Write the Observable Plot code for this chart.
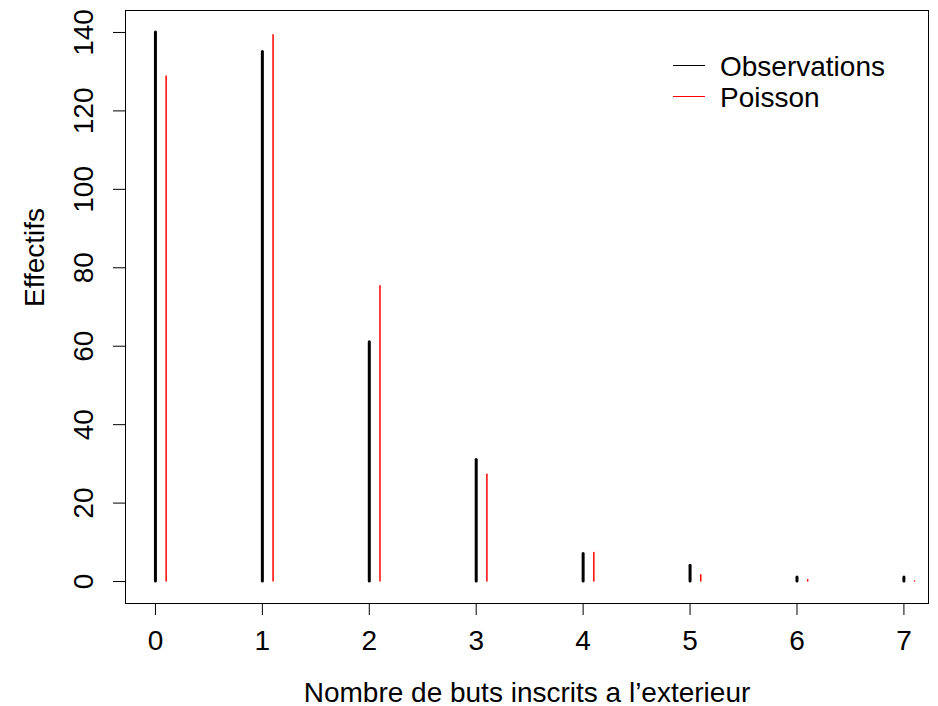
<!DOCTYPE html>
<html>
<head>
<meta charset="utf-8">
<script src="https://cdn.jsdelivr.net/npm/d3@7"></script>
<script src="https://cdn.jsdelivr.net/npm/@observablehq/plot@0.6"></script>
<style>
  html, body { margin: 0; padding: 0; background: #fff; }
  #wrap { position: relative; width: 938px; height: 706px; font-family: "Liberation Sans", Arial, Helvetica, sans-serif; }
  .leg-row { position: absolute; left: 673px; height: 32px; display: flex; align-items: flex-start; }
  .leg-line { width: 32px; height: 1px; margin-top: 14px; margin-right: 15px; }
  .leg-text { font-size: 28px; line-height: 32px; color: #000; }
</style>
</head>
<body>
<div id="wrap"></div>
<script>
// Data
const buts = [0, 1, 2, 3, 4, 5, 6, 7];
const observations = [140, 135, 61, 31, 7, 4, 1, 1];
const poisson = [128.8, 139.3, 75.3, 27.2, 7.3, 1.6, 0.3, 0.04];
const yTicks = [0, 20, 40, 60, 80, 100, 120, 140];
const xTicks = [0, 1, 2, 3, 4, 5, 6, 7];
const xTitle = "Nombre de buts inscrits a l\u2019exterieur";
const yTitle = "Effectifs";
const seriesNames = ["Observations", "Poisson"];
const seriesColors = ["#000000", "#ff0000"];

const obsData = buts.map((b, i) => ({x: b, y: observations[i]}));
const poisData = buts.map((b, i) => ({x: b + 0.1, y: poisson[i]}));

const chart = Plot.plot({
  width: 938,
  height: 706,
  marginLeft: 125,
  marginRight: 10,
  marginTop: 10,
  marginBottom: 103,
  style: {fontFamily: "Liberation Sans, Arial, Helvetica, sans-serif", background: "#fff", color: "#000"},
  x: {domain: [-0.28, 7.23]},
  y: {domain: [-5.6, 145.6]},
  marks: [
    Plot.frame({stroke: "#000", strokeWidth: 1}),
    Plot.axisX({ticks: xTicks, tickSize: 12, tickPadding: 15, fontSize: 28, label: null, tickFormat: d => String(d)}),
    Plot.axisY({ticks: yTicks, tickSize: 12, tickPadding: 21, tickRotate: -90, fontSize: 28, label: null, tickFormat: d => String(d)}),
    Plot.ruleX(obsData, {x: "x", y1: 0, y2: "y", stroke: seriesColors[0], strokeWidth: 3, strokeLinecap: "round"}),
    Plot.ruleX(poisData, {x: "x", y1: 0, y2: "y", stroke: seriesColors[1], strokeWidth: 1.5, strokeLinecap: "round"}),
    Plot.text([xTitle], {frameAnchor: "bottom", lineAnchor: "bottom", dy: 98, fontSize: 28, text: d => d}),
    Plot.text([yTitle], {frameAnchor: "left", lineAnchor: "bottom", rotate: -90, dx: -82, fontSize: 28, text: d => d})
  ]
});

const wrap = document.getElementById("wrap");
wrap.appendChild(chart);

seriesNames.forEach((name, i) => {
  const row = document.createElement("div");
  row.className = "leg-row";
  row.style.top = (51 + i * 31) + "px";
  const line = document.createElement("div");
  line.className = "leg-line";
  line.style.background = seriesColors[i];
  const txt = document.createElement("div");
  txt.className = "leg-text";
  txt.textContent = name;
  row.appendChild(line);
  row.appendChild(txt);
  wrap.appendChild(row);
});
</script>
</body>
</html>
